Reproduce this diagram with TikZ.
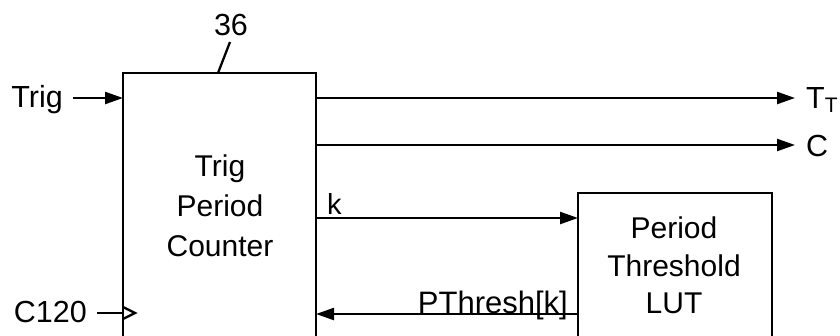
\documentclass[tikz,border=0pt]{standalone}
\usepackage{fontspec}
\setmainfont{Liberation Sans}
\usetikzlibrary{arrows.meta}
\begin{document}
\begin{tikzpicture}[x=1pt,y=-1pt,
  blk/.style={draw, line width=2.3pt, inner sep=0pt, outer sep=0pt},
  wire/.style={line width=2.3pt},
  arr/.style={wire, -{Triangle[length=18pt,width=12pt]}},
  bigtxt/.style={inner sep=0pt, font=\fontsize{30.5}{36}\selectfont},
  intxt/.style={inner sep=0pt, align=center}
]
\useasboundingbox (0,0) rectangle (840,335);
\clip (0,0) rectangle (840,335);
% blocks
\node[blk, minimum width=193pt, minimum height=277pt] (cnt) at (219.5,211.5) {};
\node[blk, minimum width=194pt, minimum height=157pt] (lut) at (675,271.5) {};
\node[intxt, anchor=north, font=\fontsize{30}{40}\selectfont] (cnttxt) at (220,155) {Trig\\Period\\Counter};
\node[intxt, anchor=north, font=\fontsize{30}{37.5}\selectfont] (luttxt) at (674,217) {Period\\Threshold\\LUT};
% reference numeral
\node[bigtxt, anchor=base] (n36) at (231,35) {36};
\coordinate (n36a) at (230,42);
\coordinate (n36b) at (218,73);
\draw[wire] (n36a) -- (n36b);
% Trig input
\node[bigtxt, anchor=base east] (trig) at (63,107) {Trig};
\coordinate (trigin) at (73,98);
\draw[arr] (trigin) -- (trigin -| cnt.west);
% C120 clock input
\node[bigtxt, anchor=base east] (c120) at (87,322) {C120};
\coordinate (clk) at (97,313);
\draw[wire] (clk) -- (clk -| cnt.west);
\draw[line width=2.3pt, line join=miter] ([yshift=-6pt]clk -| cnt.west) -- ([xshift=12pt]clk -| cnt.west) -- ([yshift=6pt]clk -| cnt.west);
% outputs
\coordinate (tt) at (795,98);
\coordinate (cc) at (795,145);
\draw[arr] (tt -| cnt.east) -- (tt);
\draw[arr] (cc -| cnt.east) -- (cc);
\node[bigtxt, anchor=base west] (ttl) at (806,108) {T\raisebox{-4pt}{\fontsize{21}{21}\selectfont T}};
\node[bigtxt, anchor=base west] (ccl) at (806,156) {C};
% k and PThresh[k]
\coordinate (kk) at (0,218);
\coordinate (pp) at (0,314);
\draw[arr] (cnt.east |- kk) -- (lut.west |- kk);
\draw[arr] (lut.west |- pp) -- (cnt.east |- pp);
\node[inner sep=0pt, anchor=base west, font=\fontsize{29}{30}\selectfont] (kl) at (327,214) {k};
\node[inner sep=0pt, anchor=base east, font=\fontsize{31}{31}\selectfont] (pl) at (568,313) {PThresh[k]};
\end{tikzpicture}
\end{document}
